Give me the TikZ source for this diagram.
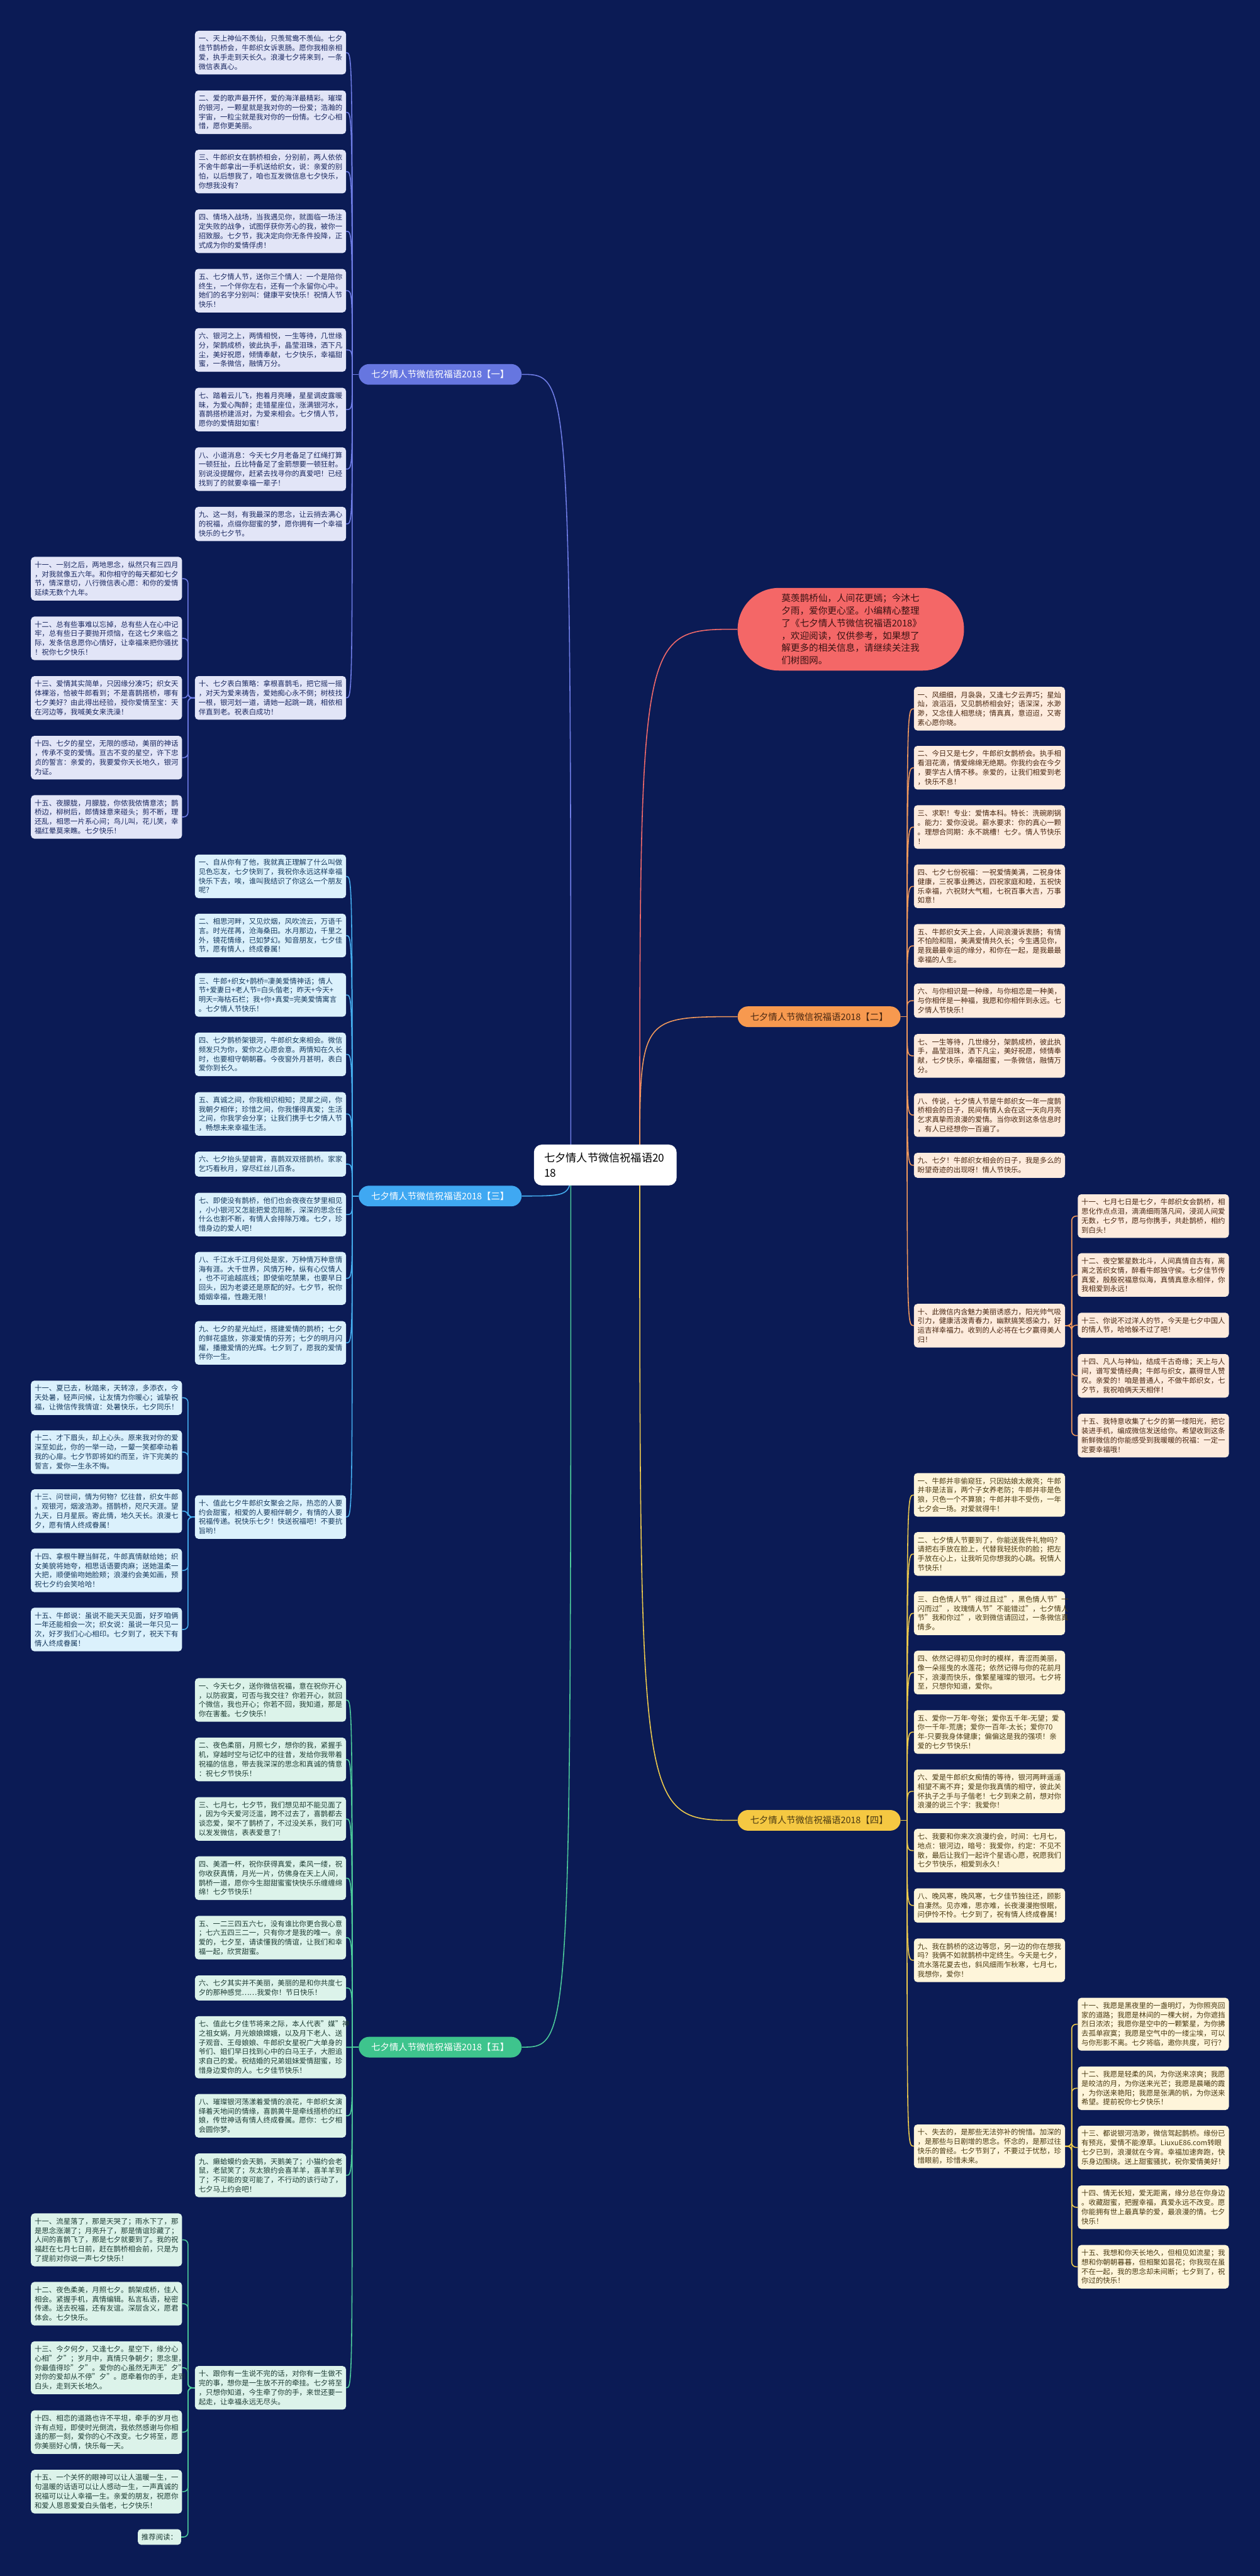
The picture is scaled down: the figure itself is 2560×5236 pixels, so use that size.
\documentclass[tikz,border=0pt]{standalone}
\usepackage{fontspec}
\setmainfont{Noto Sans CJK SC}
\usetikzlibrary{calc}
\pgfdeclarelayer{bgfill}
\pgfdeclarelayer{lines}
\pgfsetlayers{bgfill,lines,main}
\definecolor{bgc}{HTML}{0B1B55}
\definecolor{Aline}{HTML}{6F7DE6}\definecolor{Alab}{HTML}{6676E0}\definecolor{Aleaf}{HTML}{E2E5F7}\definecolor{Atxt}{HTML}{1A2860}
\definecolor{Cline}{HTML}{45AEEF}\definecolor{Clab}{HTML}{3FA8F2}\definecolor{Cleaf}{HTML}{DBF1FC}\definecolor{Ctxt}{HTML}{173A5E}
\definecolor{Eline}{HTML}{4CCB9B}\definecolor{Elab}{HTML}{3EC48D}\definecolor{Eleaf}{HTML}{DCF3EA}\definecolor{Etxt}{HTML}{1E3D35}
\definecolor{Bline}{HTML}{F39A5C}\definecolor{Blab}{HTML}{F7994F}\definecolor{Bleaf}{HTML}{FDEBDD}\definecolor{Btxt}{HTML}{4A2812}
\definecolor{Dline}{HTML}{EFCB4C}\definecolor{Dlab}{HTML}{F5C842}\definecolor{Dleaf}{HTML}{FEF5DA}\definecolor{Dtxt}{HTML}{4A3A12}
\definecolor{Iline}{HTML}{F26A6A}\definecolor{Ifill}{HTML}{F46767}\definecolor{Itxt}{HTML}{3A1212}
\newcommand\leaffont{\fontsize{14.6}{18.9}\selectfont}
\newcommand\labfont{\fontsize{18.4}{22}\selectfont}
\newcommand\introfont{\fontsize{18.7}{25.3}\selectfont}
\newcommand\rootfont{\fontsize{22}{30}\selectfont}
\tikzset{
 leaf/.style={rounded corners=7pt, text width=292pt, inner xsep=7.5pt, inner ysep=0pt, align=left, font=\leaffont, anchor=north west},
 n1/.style={minimum height=31.9pt}, n2/.style={minimum height=50.8pt}, n3/.style={minimum height=69.7pt},
 n4/.style={minimum height=88.6pt}, n5/.style={minimum height=107.5pt}, n6/.style={minimum height=126.4pt},
 lfA/.style={leaf, fill=Aleaf, text=Atxt}, lfB/.style={leaf, fill=Bleaf, text=Btxt},
 lfC/.style={leaf, fill=Cleaf, text=Ctxt}, lfD/.style={leaf, fill=Dleaf, text=Dtxt},
 lfE/.style={leaf, fill=Eleaf, text=Etxt},
 lab/.style={rounded corners=21pt, minimum width=331pt, minimum height=42pt, inner sep=0pt, font=\labfont},
 lnA/.style={draw=Aline, line width=2pt}, lnB/.style={draw=Bline, line width=2pt},
 lnC/.style={draw=Cline, line width=2pt}, lnD/.style={draw=Dline, line width=2pt},
 lnE/.style={draw=Eline, line width=2pt}, lnI/.style={draw=Iline, line width=2pt},
}
\begin{document}
\begin{tikzpicture}[x=1pt,y=-1pt]
\begin{pgfonlayer}{bgfill}
\fill[bgc] (0,0) rectangle (2560,5236);
\end{pgfonlayer}
\useasboundingbox (0,0) rectangle (2560,5236);

% root
\node[fill=white, rounded corners=16pt, text width=248pt, inner xsep=21pt, inner ysep=8pt, align=left, font=\rootfont, text=black, minimum height=83pt] (root) at (1230,2368) {七夕情人节微信祝福语20\\18};

% intro
\node[fill=Ifill, text=Itxt, rounded corners=84pt, minimum width=460pt, minimum height=168pt, text width=282pt, align=left, font=\introfont] (intro) at (1729,1279) {莫羡鹊桥仙，人间花更嫣；今沐七\\夕雨，爱你更心坚。小编精心整理\\了《七夕情人节微信祝福语2018》\\，欢迎阅读，仅供参考，如果想了\\解更多的相关信息，请继续关注我\\们树图网。};

% branch labels
\node[lab, fill=Alab, text=white] (brA) at (894.5,761) {七夕情人节微信祝福语2018【一】};
\node[lab, fill=Clab, text=white] (brC) at (894.5,2431) {七夕情人节微信祝福语2018【三】};
\node[lab, fill=Elab, text=white] (brE) at (894.5,4161) {七夕情人节微信祝福语2018【五】};
\node[lab, fill=Blab, text=Btxt] (brB) at (1664.5,2066.5) {七夕情人节微信祝福语2018【二】};
\node[lab, fill=Dlab, text=Dtxt] (brD) at (1664.5,3700) {七夕情人节微信祝福语2018【四】};

% ---------- branch 一 ----------
\node[lfA,n4] (a1) at (396,62.4) {一、天上神仙不羡仙，只羡鸳鸯不羡仙。七夕\\佳节鹊桥会，牛郎织女诉衷肠。愿你我相亲相\\爱，执手走到天长久。浪漫七夕将来到，一条\\微信表真心。};
\node[lfA,n4] (a2) at (396,183.6) {二、爱的歌声最开怀，爱的海洋最精彩。璀璨\\的银河，一颗星就是我对你的一份爱；浩瀚的\\宇宙，一粒尘就是我对你的一份情。七夕心相\\惜，愿你更美丽。};
\node[lfA,n4] (a3) at (396,304.2) {三、牛郎织女在鹊桥相会，分别前，两人依依\\不舍牛郎拿出一手机送给织女，说：亲爱的别\\怕，以后想我了，咱也互发微信息七夕快乐，\\你想我没有？};
\node[lfA,n4] (a4) at (396,425.6) {四、情场入战场，当我遇见你，就面临一场注\\定失败的战争，试图俘获你芳心的我，被你一\\招致服。七夕节，我决定向你无条件投降，正\\式成为你的爱情俘虏！};
\node[lfA,n4] (a5) at (396,546.3) {五、七夕情人节，送你三个情人：一个是陪你\\终生，一个伴你左右，还有一个永留你心中。\\她们的名字分别叫：健康平安快乐！祝情人节\\快乐！};
\node[lfA,n4] (a6) at (396,666.8) {六、银河之上，两情相悦，一生等待，几世缘\\分，架鹊成桥，彼此执手，晶莹泪珠，洒下凡\\尘，美好祝愿，倾情奉献，七夕快乐，幸福甜\\蜜，一条微信，融情万分。};
\node[lfA,n4] (a7) at (396,788) {七、踏着云儿飞，抱着月亮睡，星星调皮露暖\\昧，为爱心陶醉；走错星座位，涨满银河水，\\喜鹊搭桥建派对，为爱来相会。七夕情人节，\\愿你的爱情甜如蜜！};
\node[lfA,n4] (a8) at (396,909) {八、小道消息：今天七夕月老备足了红绳打算\\一顿狂扯，丘比特备足了金箭想要一顿狂射。\\别说没提醒你，赶紧去找寻你的真爱吧！已经\\找到了的就要幸福一辈子！};
\node[lfA,n3] (a9) at (396,1030) {九、这一刻，有我最深的思念，让云捎去满心\\的祝福，点缀你甜蜜的梦，愿你拥有一个幸福\\快乐的七夕节。};
\node[lfA,n4] (a10) at (396,1374) {十、七夕表白策略：拿根喜鹊毛，把它摇一摇\\，对天为爱来祷告，爱她痴心永不倒；树枝找\\一根，银河划一道，请她一起跳一跳，相依相\\伴直到老。祝表白成功！};
\node[lfA,n4] (a11) at (62.7,1131.7) {十一、一别之后，两地思念，纵然只有三四月\\，对我就像五六年。和你相守的每天都如七夕\\节，情深意切，八行微信表心愿：和你的爱情\\延续无数个九年。};
\node[lfA,n4] (a12) at (62.7,1253) {十二、总有些事难以忘掉，总有些人在心中记\\牢，总有些日子要抛开烦恼，在这七夕来临之\\际，发条信息愿你心情好，让幸福来把你骚扰\\！祝你七夕快乐！};
\node[lfA,n4] (a13) at (62.7,1374) {十三、爱情其实简单，只因缘分凑巧；织女天\\体裸浴，恰被牛郎看到；不是喜鹊搭桥，哪有\\七夕美好？由此得出经验，授你爱情至宝：天\\在河边等，我喊美女来洗澡！};
\node[lfA,n4] (a14) at (62.7,1495.5) {十四、七夕的星空，无限的感动，美丽的神话\\，传承不变的爱情。亘古不变的星空，许下忠\\贞的誓言：亲爱的，我要爱你天长地久，银河\\为证。};
\node[lfA,n4] (a15) at (62.7,1616) {十五、夜朦胧，月朦胧，你侬我侬情意浓；鹊\\桥边，柳树后，郎情妹意来碰头；剪不断，理\\还乱，相思一片系心间；鸟儿叫，花儿笑，幸\\福红晕莫来瞧。七夕快乐！};

% ---------- branch 三 ----------
\node[lfC,n4] (c1) at (396,1736.7) {一、自从你有了他，我就真正理解了什么叫做\\见色忘友，七夕快到了，我祝你永远这样幸福\\快乐下去，唉，谁叫我结识了你这么一个朋友\\呢？};
\node[lfC,n4] (c2) at (396,1857) {二、相思河畔，又见炊烟，风吹流云，万语千\\言。时光荏苒，沧海桑田。水月那边，千里之\\外，镜花情缘，已如梦幻。知音朋友，七夕佳\\节，愿有情人，终成眷属！};
\node[lfC,n4] (c3) at (396,1977.8) {三、牛郎+织女+鹊桥=凄美爱情神话；情人\\节+爱妻日+老人节=白头偕老；昨天+今天+\\明天=海枯石栏；我+你+真爱=完美爱情寓言\\。七夕情人节快乐！};
\node[lfC,n4] (c4) at (396,2098.5) {四、七夕鹊桥架银河，牛郎织女来相会。微信\\频发只为你，爱你之心愿会意。两情知在久长\\时，也要相守朝朝暮。今夜窗外月甚明，表白\\爱你到长久。};
\node[lfC,n4] (c5) at (396,2219.7) {五、真诚之间，你我相识相知；灵犀之间，你\\我朝夕相伴；珍惜之间，你我懂得真爱；生活\\之间，你我学会分享；让我们携手七夕情人节\\，畅想未来幸福生活。};
\node[lfC,n2] (c6) at (396,2340.5) {六、七夕抬头望碧霄，喜鹊双双搭鹊桥。家家\\乞巧看秋月，穿尽红丝儿百条。};
\node[lfC,n4] (c7) at (396,2424.2) {七、即使没有鹊桥，他们也会夜夜在梦里相见\\，小小银河又怎能把爱恋阻断，深深的思念任\\什么也割不断，有情人会排除万难。七夕，珍\\惜身边的爱人吧！};
\node[lfC,n5] (c8) at (396,2544.5) {八、千江水千江月何处是家，万种情万种意情\\海有涯。大千世界，风情万种，纵有心仪情人\\，也不可逾越底线；即使偷吃禁果，也要早日\\回头，因为老婆还是原配的好。七夕节，祝你\\婚姻幸福，性趣无限！};
\node[lfC,n4] (c9) at (396,2685) {九、七夕的星光灿烂，搭建爱情的鹊桥；七夕\\的鲜花盛放，弥漫爱情的芬芳；七夕的明月闪\\耀，播撒爱情的光辉。七夕到了，愿我的爱情\\伴你一生。};
\node[lfC,n4] (c10) at (396,3039) {十、值此七夕牛郎织女聚会之际，热恋的人要\\约会甜蜜，相爱的人要相伴朝夕，有情的人要\\祝福传递。祝快乐七夕！快送祝福吧！不要抗\\旨哟！};
\node[lfC,n3] (c11) at (62.7,2806) {十一、夏已去，秋踏来，天转凉，多添衣，今\\天处暑，轻声问候，让友情为你暖心；诚挚祝\\福，让微信传我情谊：处暑快乐，七夕同乐！};
\node[lfC,n4] (c12) at (62.7,2907) {十二、才下眉头，却上心头。原来我对你的爱\\深至如此，你的一举一动，一颦一笑都牵动着\\我的心扉。七夕节即将如约而至，许下完美的\\誓言，爱你一生永不悔。};
\node[lfC,n4] (c13) at (62.7,3027) {十三、问世间，情为何物？忆往昔，织女牛郎\\。观银河，烟波浩渺。搭鹊桥，咫尺天涯。望\\九天，日月星辰。寄此情，地久天长。浪漫七\\夕，愿有情人终成眷属！};
\node[lfC,n4] (c14) at (62.7,3147.5) {十四、拿根牛鞭当鲜花，牛郎真情献给她；织\\女美貌将她夸，相思话语要肉麻；送她温柔一\\大把，顺便偷吻她脸颊；浪漫约会美如画，预\\祝七夕约会笑哈哈！};
\node[lfC,n4] (c15) at (62.7,3267.6) {十五、牛郎说：虽说不能天天见面，好歹咱俩\\一年还能相会一次；织女说：虽说一年只见一\\次，好歹我们心心相印。七夕到了，祝天下有\\情人终成眷属！};

% ---------- branch 五 ----------
\node[lfE,n4] (e1) at (396,3410.8) {一、今天七夕，送你微信祝福，意在祝你开心\\，以防寂寞，可否与我交往？你若开心，就回\\个微信，我也开心；你若不回，我知道，那是\\你在害羞。七夕快乐！};
\node[lfE,n4] (e2) at (396,3531.7) {二、夜色柔丽，月照七夕，想你的我，紧握手\\机，穿越时空与记忆中的往昔，发给你我带着\\祝福的信息，带去我深深的思念和真诚的情意\\：祝七夕节快乐！};
\node[lfE,n4] (e3) at (396,3652.6) {三、七月七，七夕节，我们想见却不能见面了\\，因为今天爱河泛滥，跨不过去了，喜鹊都去\\谈恋爱，架不了鹊桥了，不过没关系，我们可\\以发发微信，表表爱意了！};
\node[lfE,n4] (e4) at (396,3773) {四、美酒一杯，祝你获得真爱，柔风一缕，祝\\你收获真情，月光一片，仿佛身在天上人间，\\鹊桥一道，愿你今生甜甜蜜蜜快快乐乐缠缠绵\\绵！七夕节快乐！};
\node[lfE,n4] (e5) at (396,3893.9) {五、一二三四五六七，没有谁比你更合我心意\\；七六五四三二一，只有你才是我的唯一。亲\\爱的，七夕至，请读懂我的情谊，让我们和幸\\福一起，欣赏甜蜜。};
\node[lfE,n2] (e6) at (396,4015) {六、七夕其实并不美丽，美丽的是和你共度七\\夕的那种感觉……我爱你！节日快乐！};
\node[lfE,n6] (e7) at (396,4097.8) {七、值此七夕佳节将来之际，本人代表"媒"神\\之祖女娲，月光娘娘嫦娥，以及月下老人、送\\子观音、王母娘娘、牛郎织女星祝广大单身的\\爷们、姐们早日找到心中的白马王子，大胆追\\求自己的爱。祝结婚的兄弟姐妹爱情甜蜜，珍\\惜身边爱你的人。七夕佳节快乐！};
\node[lfE,n4] (e8) at (396,4256) {八、璀璨银河荡漾着爱情的浪花，牛郎织女演\\绎着天地间的情缘，喜鹊黄牛是牵线搭桥的红\\娘，传世神话有情人终成眷属。愿你：七夕相\\会圆你梦。};
\node[lfE,n4] (e9) at (396,4377) {九、癞蛤蟆约会天鹅，天鹅美了；小猫约会老\\鼠，老鼠笑了；灰太狼约会喜羊羊，喜羊羊到\\了；不可能的变可能了，不行动的该行动了，\\七夕马上约会吧！};
\node[lfE,n4] (e10) at (396,4809) {十、跟你有一生说不完的话，对你有一生做不\\完的事，想你是一生放不开的牵挂。七夕将至\\，只想你知道，今生牵了你的手，来世还要一\\起走，让幸福永远无尽头。};
\node[lfE,n5] (e11) at (62.7,4498.7) {十一、流星落了，那是天哭了；雨水下了，那\\是思念涨潮了；月亮升了，那是情谊珍藏了；\\人间的喜鹊飞了，那是七夕就要到了。我的祝\\福赶在七月七日前，赶在鹊桥相会前，只是为\\了提前对你说一声七夕快乐！};
\node[lfE,n4] (e12) at (62.7,4638) {十二、夜色柔美，月照七夕。鹊架成桥，佳人\\相会。紧握手机，真情编辑。私言私语，秘密\\传递。送去祝福，还有友谊。深层含义，愿君\\体会。七夕快乐。};
\node[lfE,n5] (e13) at (62.7,4758.7) {十三、今夕何夕，又逢七夕。星空下，缘分心\\心相"夕"；岁月中，真情只争朝夕；思念里，\\你最值得珍"夕"。爱你的心虽然无声无"夕"，\\对你的爱却从不停"夕"。愿牵着你的手，走到\\白头，走到天长地久。};
\node[lfE,n4] (e14) at (62.7,4899) {十四、相恋的道路也许不平坦，牵手的岁月也\\许有点短，即使时光倒流，我依然感谢与你相\\逢的那一刻，爱你的心不改变。七夕将至，愿\\你美丽好心情，快乐每一天。};
\node[lfE,n4] (e15) at (62.7,5020) {十五、一个关怀的眼神可以让人温暖一生，一\\句温暖的话语可以让人感动一生，一声真诚的\\祝福可以让人幸福一生。亲爱的朋友，祝愿你\\和爱人恩恩爱爱白头偕老，七夕快乐！};
\node[fill=Eleaf, text=Etxt, rounded corners=7pt, font=\leaffont, inner xsep=7.5pt, inner ysep=0pt, minimum height=31.9pt, anchor=north east] (e16) at (368.3,5140.5) {推荐阅读：};

% ---------- branch 二 ----------
\node[lfB,n4] (b1) at (1857,1396) {一、风细细，月袅袅，又逢七夕云弄巧；星灿\\灿，浪滔滔，又见鹊桥相会好；语深深，水渺\\渺，又念佳人相思绕；情真真，意迢迢，又寄\\素心愿你晓。};
\node[lfB,n4] (b2) at (1857,1516) {二、今日又是七夕，牛郎织女鹊桥会。执手相\\看泪花滴，情爱绵绵无绝期。你我约会在今夕\\，要学古人情不移。亲爱的，让我们相爱到老\\，快乐不息！};
\node[lfB,n4] (b3) at (1857,1636.5) {三、求职！专业：爱情本科。特长：洗碗刷锅\\。能力：爱你没说。薪水要求：你的真心一颗\\。理想合同期：永不跳槽！七夕。情人节快乐\\！};
\node[lfB,n4] (b4) at (1857,1757) {四、七夕七份祝福：一祝爱情美满，二祝身体\\健康，三祝事业腾达，四祝家庭和睦，五祝快\\乐幸福，六祝财大气粗，七祝百事大吉，万事\\如意！};
\node[lfB,n4] (b5) at (1857,1878) {五、牛郎织女天上会，人间浪漫诉衷肠；有情\\不怕险和阻，美满爱情共久长；今生遇见你，\\是我最最幸运的缘分，和你在一起，是我最最\\幸福的人生。};
\node[lfB,n3] (b6) at (1857,1999) {六、与你相识是一种缘，与你相恋是一种美，\\与你相伴是一种福，我愿和你相伴到永远。七\\夕情人节快乐！};
\node[lfB,n4] (b7) at (1857,2101.6) {七、一生等待，几世缘分，架鹊成桥，彼此执\\手，晶莹泪珠，洒下凡尘，美好祝愿，倾情奉\\献，七夕快乐，幸福甜蜜，一条微信，融情万\\分。};
\node[lfB,n4] (b8) at (1857,2222) {八、传说，七夕情人节是牛郎织女一年一度鹊\\桥相会的日子，民间有情人会在这一天向月亮\\乞求真挚而浪漫的爱情。当你收到这条信息时\\，有人已经想你一百遍了。};
\node[lfB,n2] (b9) at (1857,2343) {九、七夕！牛郎织女相会的日子，我是多么的\\盼望奇迹的出现呀！情人节快乐。};
\node[lfB,n4] (b10) at (1857,2650) {十、此微信内含魅力美丽诱惑力，阳光帅气吸\\引力，健康活泼青春力，幽默搞笑感染力，好\\运吉祥幸福力。收到的人必将在七夕赢得美人\\归！};
\node[lfB,n4] (b11) at (2190,2427.3) {十一、七月七日是七夕，牛郎织女会鹊桥，相\\思化作点点泪，滴滴细雨落凡间，浸润人间爱\\无数，七夕节，愿与你携手，共赴鹊桥，相约\\到白头！};
\node[lfB,n4] (b12) at (2190,2547) {十二、夜空繁星数北斗，人间真情自古有，离\\离之苦织女情，醉看牛郎独守侯。七夕佳节传\\真爱，殷殷祝福意似海，真情真意永相伴，你\\我相爱到永远！};
\node[lfB,n2] (b13) at (2190,2668) {十三、你说不过洋人的节，今天是七夕中国人\\的情人节，哈哈躲不过了吧！};
\node[lfB,n4] (b14) at (2190,2752) {十四、凡人与神仙，结成千古奇缘；天上与人\\间，谱写爱情经典；牛郎与织女，赢得世人赞\\叹。亲爱的！咱是普通人，不做牛郎织女，七\\夕节，我祝咱俩天天相伴！};
\node[lfB,n4] (b15) at (2190,2873.5) {十五、我特意收集了七夕的第一缕阳光，把它\\装进手机，编成微信发送给你。希望收到这条\\新鲜微信的你能感受到我暖暖的祝福：一定一\\定要幸福哦！};

% ---------- branch 四 ----------
\node[lfD,n4] (d1) at (1857,2994) {一、牛郎并非偷窥狂，只因姑娘太敞亮；牛郎\\并非是法盲，两个子女养老防；牛郎并非是色\\狼，只色一个不算狼；牛郎并非不受伤，一年\\七夕会一场。对爱就得牛！};
\node[lfD,n4] (d2) at (1857,3114) {二、七夕情人节要到了，你能送我件礼物吗？\\请把右手放在脸上，代替我轻抚你的脸；把左\\手放在心上，让我听见你想我的心跳。祝情人\\节快乐！};
\node[lfD,n4] (d3) at (1857,3234.5) {三、白色情人节"得过且过"，黑色情人节"一\\闪而过"，玫瑰情人节"不能错过"，七夕情人\\节"我和你过"，收到微信请回过，一条微信真\\情多。};
\node[lfD,n4] (d4) at (1857,3355) {四、依然记得初见你时的模样，青涩而美丽，\\像一朵摇曳的水莲花；依然记得与你的花前月\\下，浪漫而快乐，像繁星璀璨的银河。七夕将\\至，只想你知道，爱你。};
\node[lfD,n4] (d5) at (1857,3476) {五、爱你一万年-夸张；爱你五千年-无望；爱\\你一千年-荒唐；爱你一百年-太长；爱你70\\年-只要我身体健康；偏偏这是我的强项！亲\\爱的七夕节快乐！};
\node[lfD,n4] (d6) at (1857,3596.5) {六、爱是牛郎织女痴情的等待，银河两畔遥遥\\相望不离不弃；爱是你我真情的相守，彼此关\\怀执子之手与子偕老！七夕到来之前，想对你\\浪漫的说三个字：我爱你！};
\node[lfD,n4] (d7) at (1857,3717) {七、我要和你来次浪漫约会，时间：七月七，\\地点：银河边，暗号：我爱你，约定：不见不\\散，最后让我们一起许个星语心愿，祝愿我们\\七夕节快乐，相爱到永久！};
\node[lfD,n3] (d8) at (1857,3838) {八、晚风寒，晚风寒，七夕佳节独往还，顾影\\自凄然。见亦难，思亦难，长夜漫漫抱恨眠，\\问伊怜不怜。七夕到了，祝有情人终成眷属！};
\node[lfD,n4] (d9) at (1857,3940) {九、我在鹊桥的这边等您，另一边的你在想我\\吗？我俩不如就鹊桥中定终生。今天是七夕，\\流水落花夏去也，斜风细雨乍秋寒，七月七，\\我想你，爱你！};
\node[lfD,n4] (d10) at (1857,4318) {十、失去的，是那些无法弥补的惋惜。加深的\\，是那些与日剧增的思念。怀念的，是那过往\\快乐的曾经。七夕节到了，不要过于忧愁，珍\\惜眼前，珍惜未来。};
\node[lfD,n5] (d11) at (2190,4060.5) {十一、我愿是黑夜里的一盏明灯，为你照亮回\\家的道路；我愿是林间的一棵大树，为你遮挡\\烈日浓浓；我愿你是空中的一颗繁星，为你拂\\去孤单寂寞；我愿是空气中的一缕尘埃，可以\\与你形影不离。七夕将临，邀你共度，可行？};
\node[lfD,n4] (d12) at (2190,4200) {十二、我愿是轻柔的风，为你送来凉爽；我愿\\是皎洁的月，为你送来光芒；我愿是晨曦的霞\\，为你送来艳阳；我愿是张满的帆，为你送来\\希望。提前祝你七夕快乐！};
\node[lfD,n4] (d13) at (2190,4320.5) {十三、都说银河浩渺，微信驾起鹊桥。缘份已\\有预兆，爱情不能潦草。LiuxuE86.com转眼\\七夕已到，浪漫就在今宵。幸福加速奔跑，快\\乐身边围绕。送上甜蜜骚扰，祝你爱情美好！};
\node[lfD,n4] (d14) at (2190,4442) {十四、情无长短，爱无距离，缘分总在你身边\\。收藏甜蜜，把握幸福，真爱永远不改变。愿\\你能拥有世上最真挚的爱，最浪漫的情。七夕\\快乐！};
\node[lfD,n4] (d15) at (2190,4563) {十五、我想和你天长地久，但相见如流星；我\\想和你朝朝暮暮，但相聚如昙花；你我现在虽\\不在一起，我的思念却未间断；七夕到了，祝\\你过的快乐！};

% ---------- connectors ----------
\begin{pgfonlayer}{lines}
\coordinate (rL) at (1160,2368);
\coordinate (rR) at (1300,2368);
\draw[lnA] (rL) .. controls (rL |- brA.east) .. (brA.east);
\draw[lnC] (rL) .. controls (rL |- brC.east) .. (brC.east);
\draw[lnE] (rL) .. controls (rL |- brE.east) .. (brE.east);
\draw[lnI] (rR) .. controls (rR |- intro.west) .. (intro.west);
\draw[lnB] (rR) .. controls (rR |- brB.west) .. (brB.west);
\draw[lnD] (rR) .. controls (rR |- brD.west) .. (brD.west);

\coordinate (tA) at ($(brA.west)+(-13,0)$);
\coordinate (tC) at ($(brC.west)+(-13,0)$);
\coordinate (tE) at ($(brE.west)+(-13,0)$);
\coordinate (tB) at ($(brB.east)+(13,0)$);
\coordinate (tD) at ($(brD.east)+(13,0)$);
\draw[lnA] (brA.west) -- (tA);
\draw[lnC] (brC.west) -- (tC);
\draw[lnE] (brE.west) -- (tE);
\draw[lnB] (brB.east) -- (tB);
\draw[lnD] (brD.east) -- (tD);
\foreach \i in {1,...,10}{
  \draw[lnA] (tA) .. controls (tA |- a\i.east) .. (a\i.east);
  \draw[lnC] (tC) .. controls (tC |- c\i.east) .. (c\i.east);
  \draw[lnE] (tE) .. controls (tE |- e\i.east) .. (e\i.east);
  \draw[lnB] (tB) .. controls (tB |- b\i.west) .. (b\i.west);
  \draw[lnD] (tD) .. controls (tD |- d\i.west) .. (d\i.west);
}
\foreach \i in {11,...,15}{
  \draw[lnA, rounded corners=9pt] (a10.west) -- ++(-14,0) |- (a\i.east);
  \draw[lnC, rounded corners=9pt] (c10.west) -- ++(-14,0) |- (c\i.east);
  \draw[lnE, rounded corners=9pt] (e10.west) -- ++(-14,0) |- (e\i.east);
  \draw[lnB, rounded corners=9pt] (b10.east) -- ++(13.5,0) |- (b\i.west);
  \draw[lnD, rounded corners=9pt] (d10.east) -- ++(13.5,0) |- (d\i.west);
}
\draw[lnE, rounded corners=9pt] (e10.west) -- ++(-14,0) |- (e16.east);
\end{pgfonlayer}
\end{tikzpicture}
\end{document}
